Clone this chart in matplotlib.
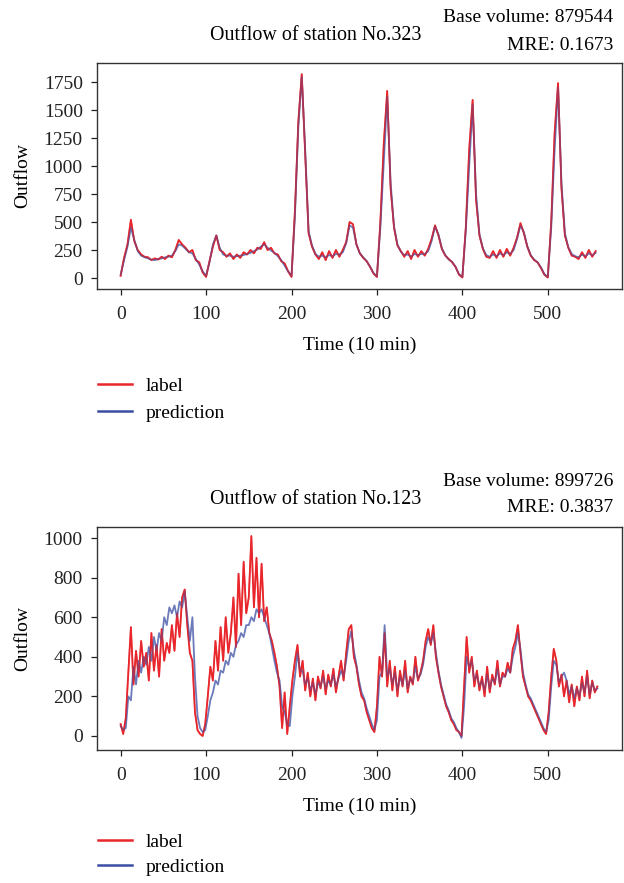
import numpy as np
import matplotlib
matplotlib.use("Agg")
import matplotlib.pyplot as plt
from matplotlib.lines import Line2D

plt.rcParams['font.family'] = ['Liberation Serif', 'DejaVu Serif']

# ---- station No.323 (sampled every 4 steps) ----
t_top = np.arange(0, 560, 4)
label_323 = [
    20, 180, 300, 520, 330, 250, 210, 190, 185, 160,
    175, 165, 190, 170, 200, 185, 250, 340, 300, 270,
    230, 250, 160, 140, 50, 10, 150, 280, 380, 250,
    230, 190, 220, 170, 210, 180, 230, 210, 250, 220,
    270, 260, 320, 250, 270, 220, 210, 150, 130, 60,
    10, 600, 1400, 1820, 1100, 400, 280, 210, 170, 230,
    160, 240, 180, 250, 190, 250, 320, 500, 480, 300,
    220, 180, 150, 100, 40, 10, 500, 1200, 1670, 800,
    450, 290, 240, 190, 240, 170, 250, 190, 240, 200,
    260, 350, 470, 380, 260, 200, 170, 140, 100, 30,
    5, 450, 1150, 1590, 700, 380, 260, 190, 180, 240,
    180, 250, 190, 260, 200, 270, 360, 490, 400, 280,
    200, 160, 140, 90, 30, 5, 500, 1300, 1740, 800,
    380, 270, 200, 190, 170, 230, 180, 250, 190, 240,
]
pred_323 = [
    30, 160, 280, 450, 340, 240, 200, 185, 175, 165,
    160, 170, 175, 185, 190, 200, 240, 300, 290, 260,
    230, 220, 170, 120, 60, 20, 140, 300, 380, 270,
    210, 200, 200, 190, 195, 200, 205, 215, 225, 240,
    255, 280, 300, 270, 245, 225, 195, 160, 110, 60,
    20, 550, 1350, 1800, 1150, 420, 290, 215, 190, 200,
    185, 205, 195, 215, 210, 230, 310, 470, 450, 300,
    220, 185, 150, 100, 45, 15, 450, 1030, 1620, 850,
    460, 300, 235, 205, 210, 190, 215, 205, 215, 215,
    240, 330, 460, 390, 265, 205, 165, 145, 100, 35,
    10, 420, 1000, 1550, 750, 390, 265, 205, 190, 210,
    195, 220, 205, 230, 215, 250, 350, 470, 410, 285,
    205, 165, 140, 95, 35, 10, 450, 1150, 1700, 850,
    400, 275, 215, 195, 185, 210, 195, 220, 205, 225,
]

# ---- station No.123 (sampled every 3 steps) ----
t_bot = np.arange(0, 560, 3)
label_123 = [
    60, 10, 90, 320, 550, 260, 430, 300, 480, 350,
    420, 280, 520, 330, 460, 300, 540, 380, 470, 420,
    560, 430, 620, 500, 700, 740, 560, 420, 380, 120,
    30, 10, 0, 60, 200, 350, 280, 480, 330, 550,
    380, 600, 420, 520, 700, 450, 820, 560, 880, 620,
    700, 1010, 650, 900, 600, 870, 580, 650, 520, 480,
    420, 350, 250, 40, 220, 10, 150, 280, 380, 460,
    300, 380, 230, 320, 200, 290, 180, 300, 240, 330,
    210, 310, 250, 340, 220, 300, 380, 280, 420, 540,
    560, 400, 350, 260, 200, 180, 120, 80, 40, 20,
    150, 400, 300, 520, 250, 380, 230, 350, 200, 330,
    250, 380, 220, 300, 260, 400, 280, 320, 380, 480,
    540, 460, 560, 400, 320, 250, 200, 150, 120, 80,
    60, 30, 20, 0, 250, 500, 320, 400, 250, 330,
    230, 300, 200, 350, 220, 310, 260, 380, 250, 320,
    300, 370, 320, 440, 480, 560, 420, 300, 250, 200,
    180, 150, 120, 90, 60, 30, 10, 120, 300, 440,
    380, 250, 310, 200, 280, 170, 260, 150, 250, 180,
    300, 200, 330, 190, 280, 220, 250,
]
pred_123 = [
    50, 30, 40, 200, 180, 350, 260, 380, 320, 400,
    360, 450, 380, 500, 430, 520, 480, 600, 560, 650,
    620, 660, 600, 680, 650, 730, 600, 480, 600, 300,
    100, 40, 20, 30, 100, 180, 220, 280, 260, 330,
    320, 380, 360, 420, 400, 460, 480, 520, 500, 560,
    560, 600, 580, 640, 620, 640, 600, 560, 520, 450,
    380, 320, 280, 150, 120, 60, 50, 200, 300, 420,
    330, 330, 260, 290, 230, 270, 210, 270, 250, 300,
    240, 280, 260, 310, 250, 290, 330, 300, 380, 480,
    530, 430, 360, 280, 220, 190, 140, 100, 60, 30,
    80, 300, 320, 560, 300, 340, 260, 320, 230, 300,
    260, 330, 240, 290, 270, 350, 290, 310, 360, 450,
    500, 470, 520, 420, 330, 260, 210, 160, 130, 90,
    70, 40, 20, -10, 150, 400, 350, 380, 280, 310,
    250, 280, 230, 310, 240, 290, 270, 340, 260, 300,
    300, 340, 320, 400, 450, 520, 440, 320, 260, 210,
    190, 160, 130, 100, 70, 40, 20, 80, 250, 380,
    360, 270, 300, 320, 280, 210, 250, 190, 240, 200,
    270, 220, 300, 210, 270, 230, 240,
]

stations = ["No.323", "No.123"]
base_volumes = [879544, 899726]
mres = [0.1673, 0.3837]

RED = '#e8262b'
BLUE = '#3b4ea3'
FS = 14

fig = plt.figure(figsize=(6.24, 8.83), dpi=100)
ax_top = fig.add_axes([0.155, 0.6727, 0.842, 0.256])
ax_bot = fig.add_axes([0.155, 0.1506, 0.842, 0.2526])

panels = [
    (ax_top, t_top, label_323, pred_323, [0, 250, 500, 750, 1000, 1250, 1500, 1750]),
    (ax_bot, t_bot, label_123, pred_123, [0, 200, 400, 600, 800, 1000]),
]
title_y = [35, 500]
base_y = [17, 482]
mre_y = [45, 508]
legend_y = [377, 833]
legend_sp = [0.5, 0.38]

for i, (ax, t, lab, pred, yt) in enumerate(panels):
    ax.plot(t, lab, color=RED, lw=1.3, zorder=2)
    ax.plot(t, pred, color=BLUE, lw=1.3, alpha=0.75, zorder=3)
    ax.plot(t, lab, color=RED, lw=1.1, alpha=0.55, zorder=4)
    ax.set_xlim(-28, 587)
    ax.set_xticks([0, 100, 200, 300, 400, 500])
    ax.set_yticks(yt)
    ax.tick_params(labelsize=FS, length=4, width=0.9, colors='#222222')
    ax.tick_params(axis='x', pad=8)
    ax.tick_params(axis='y', pad=6)
    for s in ax.spines.values():
        s.set_linewidth(1.0)
        s.set_color('#333333')
    ax.set_xlabel('Time (10 min)', fontsize=FS, labelpad=10)
    ax.set_ylabel('Outflow', fontsize=FS, labelpad=9)

    fig.text(316 / 624, 1 - title_y[i] / 883, 'Outflow of station ' + stations[i],
             ha='center', va='center', fontsize=FS + 0.4)
    fig.text(613 / 624, 1 - base_y[i] / 883, 'Base volume: %d' % base_volumes[i],
             ha='right', va='center', fontsize=FS)
    fig.text(613 / 624, 1 - mre_y[i] / 883, 'MRE: %.4f' % mres[i],
             ha='right', va='center', fontsize=FS)

    handles = [Line2D([], [], color=RED, lw=1.8), Line2D([], [], color=BLUE, lw=1.8)]
    fig.legend(handles=handles, labels=['label', 'prediction'], loc='upper left',
               bbox_to_anchor=(98 / 624, 1 - legend_y[i] / 883),
               frameon=False, fontsize=FS, borderpad=0, borderaxespad=0,
               handlelength=1.75, handletextpad=0.7, labelspacing=legend_sp[i])

ax_top.set_ylim(-98, 1920)
ax_bot.set_ylim(-71, 1056)

fig.savefig('out.png', dpi=100)
